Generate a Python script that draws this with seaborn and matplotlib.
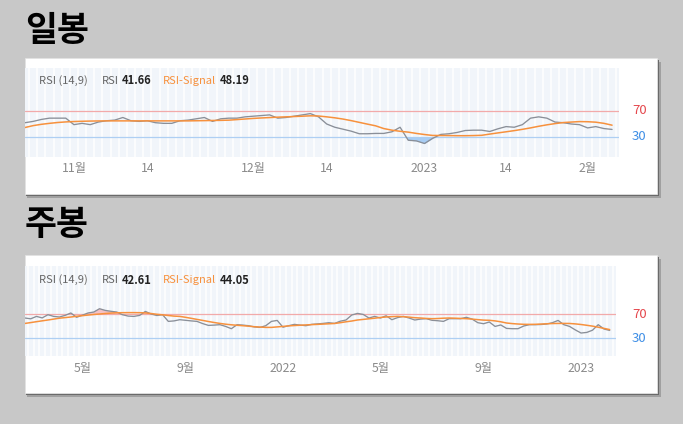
import numpy as np
import pandas as pd
import matplotlib
matplotlib.use("Agg")
import matplotlib.pyplot as plt
import matplotlib.transforms as mtrans
from matplotlib.patches import Rectangle
import seaborn as sns

# ---------------- data ----------------
daily_holidays = ["2022-12-30", "2023-01-23", "2023-01-24"]
daily_dates = [d for d in pd.bdate_range("2022-10-24", "2023-02-06")
               if d.strftime("%Y-%m-%d") not in daily_holidays]

daily_rsi = [52, 54, 57, 59, 59, 59, 49, 51, 49, 53,
             55, 56, 60, 55, 54, 55, 52, 51, 51, 55,
             56, 58, 60, 54, 58, 59, 59, 61, 62, 63,
             64, 59, 60, 62, 64, 66, 61, 50, 45, 42,
             39, 35, 35, 35.5, 35.5, 38, 45, 25, 24, 20,
             28, 34, 35, 37, 40, 40.5, 40.5, 38.5, 42.6, 46,
             45, 49, 59, 61, 59, 53, 52, 50, 49, 44,
             46, 43, 41.66]
daily_signal = [44.6, 47.5, 49.5, 51, 52.3, 53.2, 53.8, 54.2, 54.5, 54.7,
                54.8, 54.8, 54.8, 54.8, 54.8, 54.8, 54.8, 54.8, 54.8, 54.8,
                54.8, 55, 55.2, 55.4, 55.6, 55.9, 56.8, 57.7, 58.6, 59.3,
                59.9, 60.5, 61, 61.5, 62, 62.6, 62.3, 61, 59.5, 57.6,
                55.2, 52.5, 49.8, 47.2, 43, 40.5, 38.8, 37.5, 35.5, 33.8,
                32.4, 32.3, 32.2, 32, 32, 32.2, 32.6, 34.5, 36.3, 38,
                39.8, 41.8, 44, 46.5, 48.7, 50.6, 52.2, 53, 53.7, 53.5,
                52.8, 51, 48.19]
daily_tick_dates = ["2022-11-01", "2022-11-14", "2022-12-01", "2022-12-14",
                    "2023-01-02", "2023-01-16", "2023-02-01"]
daily_tick_labels = ["11월", "14", "12월", "14", "2023", "14", "2월"]

weekly_dates = list(pd.date_range("2021-02-22", "2023-02-06", freq="W-MON"))
weekly_rsi = [63.3, 62, 66, 63.5, 68.8, 66, 65, 67.7, 71.7, 64.5,
              68, 71.7, 73.3, 78.8, 76, 74.5, 73.3, 68.8, 66.5, 66,
              67.7, 74.3, 70, 67.5, 68.8, 57.7, 58.5, 60.5, 59.5, 58.5,
              57.7, 54, 51, 51.5, 52.2, 49.3, 45.5, 52.2, 51.5, 50.5,
              48.5, 47.7, 50.5, 57.7, 59.3, 48, 50.5, 52.7, 51.5, 50.5,
              52.7, 53.5, 54.3, 55.5, 54.3, 58, 60, 68.3, 71, 69.3,
              63.3, 66, 63.3, 67, 60.5, 64, 66, 63.3, 60, 61.5,
              62.2, 59.5, 58.8, 57.7, 62.2, 62.2, 62.2, 64.5, 61.5, 55.5,
              53.8, 56.7, 49.3, 51.7, 46, 45.5, 45.5, 50, 52.2, 52.2,
              52.5, 53.3, 55.5, 59.3, 52.2, 49.3, 43.5, 38.3, 39.3, 43,
              52.2, 45, 42.61]
weekly_signal = [54.3, 55.7, 57.2, 58.6, 60, 61.5, 63, 64, 65, 66.2,
                 67.2, 68.2, 69.2, 70, 70.8, 71.5, 72, 72.2, 72.3, 72.3,
                 72.2, 71.8, 70.8, 69.5, 68.6, 67.5, 66.5, 66, 64.5, 62.8,
                 61, 59.3, 57.5, 55.8, 54.3, 53, 52, 51.2, 50.5, 49.7,
                 48.8, 48.2, 47.7, 47.7, 48.5, 49.3, 50.2, 50.8, 51.3, 51.8,
                 52.3, 52.7, 53.2, 53.7, 54.2, 55.5, 57, 58.3, 60, 61,
                 62, 63, 64.2, 65, 65.6, 66, 65.5, 64.8, 63.8, 63.3,
                 62.6, 62.2, 62.5, 63, 63.3, 63, 62.6, 62.2, 61.5, 60.6,
                 59.8, 59.5, 58.5, 57, 55, 54, 53.3, 52.8, 52.7, 52.8,
                 53.2, 53.7, 54.1, 54.3, 54.3, 54.2, 53.5, 52.5, 51.2, 49.8,
                 48, 46, 44.05]
weekly_tick_dates = ["2021-05-03", "2021-09-06", "2022-01-03",
                     "2022-05-02", "2022-09-05", "2023-01-02"]
weekly_tick_labels = ["5월", "9월", "2022", "5월", "9월", "2023"]

panel_titles = ["일봉", "주봉"]
daily_header = ("41.66", "48.19")
weekly_header = ("42.61", "44.05")

# ---------------- style ----------------
sns.set_theme(style="white")
plt.rcParams["font.family"] = ["Noto Sans CJK KR", "DejaVu Sans"]

W, H = 683, 424
fig = plt.figure(figsize=(W / 100, H / 100), dpi=100, facecolor="#c8c8c8")

GRAY = "#8a8f98"
ORANGE = "#f7913d"
RED = "#e5484d"
BLUE = "#3f8fe6"


def fx(px):
    return px / W


def fy(py):
    return 1 - py / H


def card(x0, y0, x1, y1):
    fig.patches.append(Rectangle((fx(x0 + 2), fy(y1 + 4)), fx(x1 - x0 + 2), (y1 - y0) / H,
                                 transform=fig.transFigure, facecolor="#a0a0a0",
                                 edgecolor="none", zorder=-3))
    fig.patches.append(Rectangle((fx(x0 + 1), fy(y1 + 2)), fx(x1 - x0 + 1), (y1 - y0) / H,
                                 transform=fig.transFigure, facecolor="#6a6a6a",
                                 edgecolor="none", zorder=-2))
    fig.patches.append(Rectangle((fx(x0), fy(y1)), fx(x1 - x0), (y1 - y0) / H,
                                 transform=fig.transFigure, facecolor="white",
                                 edgecolor="#e2e2e2", linewidth=0.6, zorder=-1))


def panel(rect_px, dates, rsi, sig, tick_dates, tick_labels, ymax, xmax, header_y, header_vals, title, title_y):
    x0, y0, x1, y1 = rect_px
    ax = fig.add_axes([fx(x0), fy(y1), fx(x1 - x0), (y1 - y0) / H])
    ax.set_facecolor("#f1f5fa")
    ax.set_axisbelow(True)
    n = len(dates)
    df = pd.DataFrame({"i": np.arange(n), "rsi": rsi, "sig": sig})
    ax.set_xticks(np.arange(n + 1) - 0.5, minor=True)
    ax.grid(False)
    ax.grid(True, which="minor", axis="x", color="white", linewidth=1.1)
    ax.axhline(70, color="#f2aaaa", linewidth=0.9, zorder=2)
    ax.axhline(30, color="#aecff3", linewidth=0.9, zorder=2)
    r = np.array(rsi, dtype=float)
    ax.fill_between(df["i"], r, 70, where=r > 70, interpolate=True,
                    color="#f5c2c6", linewidth=0, zorder=2.5)
    ax.fill_between(df["i"], r, 30, where=r < 30, interpolate=True,
                    color="#a8cdf4", linewidth=0, zorder=2.5)
    sns.lineplot(data=df, x="i", y="rsi", ax=ax, color=GRAY, linewidth=0.95, zorder=3)
    sns.lineplot(data=df, x="i", y="sig", ax=ax, color=ORANGE, linewidth=1.1, zorder=4)
    ax.set_xlim(0, xmax)
    ax.set_ylim(0, ymax)
    date_str = [d.strftime("%Y-%m-%d") for d in dates]
    ax.set_xticks([date_str.index(t) for t in tick_dates])
    ax.set_xticklabels(tick_labels, color="#8a8a8a", fontsize=8.8)
    ax.tick_params(axis="x", which="both", length=0, pad=4)
    ax.set_yticks([])
    ax.set_xlabel("")
    ax.set_ylabel("")
    for s in ax.spines.values():
        s.set_visible(False)
    trans = mtrans.blended_transform_factory(fig.transFigure, ax.transData)
    ax.text(fx(632), 70, "70", color=RED, fontsize=9.5, va="center", ha="left", transform=trans)
    ax.text(fx(632), 30, "30", color=BLUE, fontsize=9.5, va="center", ha="left", transform=trans)

    hy = fy(header_y)
    fs = 8
    fig.text(fx(39), hy, "RSI (14,9)", color="#666666", fontsize=fs, va="center")
    fig.text(fx(102), hy, "RSI", color="#666666", fontsize=fs, va="center")
    fig.text(fx(122), hy, header_vals[0], color="#222222", fontsize=fs, va="center", fontweight="bold")
    fig.text(fx(163), hy, "RSI-Signal", color=ORANGE, fontsize=fs, va="center")
    fig.text(fx(220), hy, header_vals[1], color="#222222", fontsize=fs, va="center", fontweight="bold")
    fig.text(fx(25), fy(title_y), title, color="black", fontsize=25, fontweight="bold", va="center")
    return ax


card(25, 58, 657, 194)
card(25, 255, 657, 393)

panel((25, 68, 619, 156.5), daily_dates, daily_rsi, daily_signal, daily_tick_dates,
      daily_tick_labels, 88.5 / 0.65, 72.85, 81, daily_header, panel_titles[0], 31)
panel((25, 266, 616, 356), weekly_dates, weekly_rsi, weekly_signal, weekly_tick_dates,
      weekly_tick_labels, 150, 103.1, 280, weekly_header, panel_titles[1], 225)

fig.savefig("out.png", dpi=100, facecolor=fig.get_facecolor())
